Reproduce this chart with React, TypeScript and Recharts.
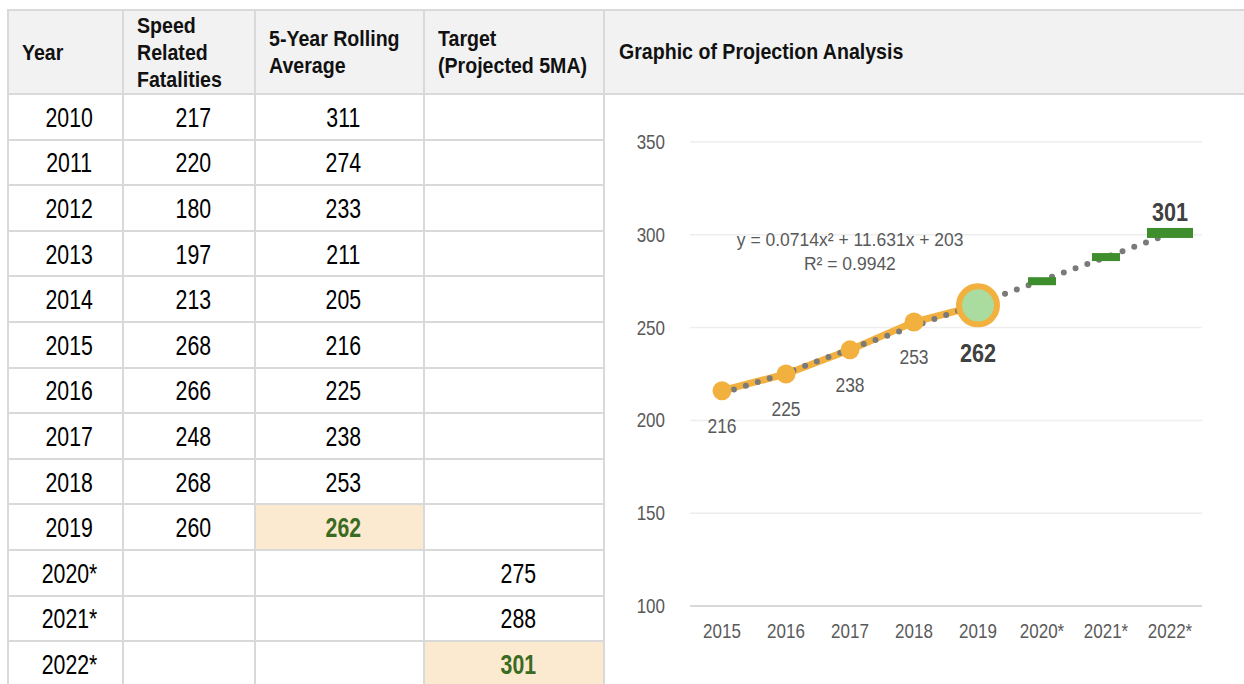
import React from 'react';
import { ComposedChart, Line, XAxis, YAxis, CartesianGrid, LabelList } from 'recharts';

// ---------- table data ----------
const tableYears = ['2010', '2011', '2012', '2013', '2014', '2015', '2016', '2017', '2018', '2019', '2020*', '2021*', '2022*'];
const speedFatalities: (number | null)[] = [217, 220, 180, 197, 213, 268, 266, 248, 268, 260, null, null, null];
const rollingAverages: (number | null)[] = [311, 274, 233, 211, 205, 216, 225, 238, 253, 262, null, null, null];
const projectedTargets: (number | null)[] = [null, null, null, null, null, null, null, null, null, null, 275, 288, 301];
const headerLabels = [['Year'], ['Speed', 'Related', 'Fatalities'], ['5-Year Rolling', 'Average'], ['Target', '(Projected 5MA)']];
const chartTitle = 'Graphic of Projection Analysis';

// ---------- chart data ----------
const chartYears = ['2015', '2016', '2017', '2018', '2019', '2020*', '2021*', '2022*'];
const chartRolling: (number | null)[] = [216, 225, 238, 253, 262, null, null, null];
const chartTargets: (number | null)[] = [null, null, null, null, null, 275, 288, 301];
const trendValues = [214.7, 225.5, 238.5, 250.7, 262.9, 275.4, 287.9, 300.6];
const yTicks = [100, 150, 200, 250, 300, 350];
const equationText = 'y = 0.0714x\u00B2 + 11.631x + 203';
const rSquaredText = 'R\u00B2 = 0.9942';

const chartData = chartYears.map((year, i) => ({
  year,
  rolling: chartRolling[i],
  target: chartTargets[i],
  trend: trendValues[i],
}));

const FONT = '"Liberation Sans", Arial, sans-serif';
const BORDER = '#D9D9D9';
const HEADER_BG = '#F2F2F2';
const HIGHLIGHT_BG = '#FCEAD0';
const HIGHLIGHT_TEXT = '#3A6B22';
const ORANGE = '#F2B13F';
const GREEN = '#3F8E2E';
const LIGHT_GREEN = '#AADC9F';
const GREY_TEXT = '#595959';

const colX = [8, 123, 255, 424, 604, 1244];
const TOP = 10;
const HEADER_BOTTOM = 94;
const ROW_H = 45.6;
const PAGE_BOTTOM = 684;

const NarrowText = (p: { x: number; y: number; children: React.ReactNode; size: number; weight?: number; fill: string; sx: number; anchor?: string }) => (
  <g transform={`translate(${p.x},${p.y}) scale(${p.sx},1)`}>
    <text x={0} y={0} textAnchor={(p.anchor as any) || 'middle'} dominantBaseline="central" fontFamily={FONT} fontSize={p.size} fontWeight={p.weight || 400} fill={p.fill}>
      {p.children}
    </text>
  </g>
);

const XTick = (props: any) => {
  const { x, y, payload } = props;
  return <NarrowText x={x} y={y + 6} size={20} fill={GREY_TEXT} sx={0.85}>{payload.value}</NarrowText>;
};

const YTick = (props: any) => {
  const { x, y, payload } = props;
  return <NarrowText x={x} y={y} size={20} fill={GREY_TEXT} sx={0.85} anchor="end">{payload.value}</NarrowText>;
};

const RollingDot = (props: any) => {
  const { cx, cy, index, value } = props;
  if (value == null || cx == null || cy == null) return <g key={`rd-${index}`} />;
  if (index === 4) {
    return <circle key={`rd-${index}`} cx={cx} cy={cy} r={19} fill={LIGHT_GREEN} stroke={ORANGE} strokeWidth={6} />;
  }
  return <circle key={`rd-${index}`} cx={cx} cy={cy} r={9.5} fill={ORANGE} />;
};

const RollingLabel = (props: any) => {
  const { x, y, value, index } = props;
  if (value == null || x == null || y == null) return null;
  const emph = index === 4;
  return (
    <NarrowText x={x} y={y + (emph ? 47 : 35)} size={emph ? 26 : 21} weight={emph ? 700 : 400} fill={emph ? '#404040' : GREY_TEXT} sx={0.83}>
      {value}
    </NarrowText>
  );
};

const TargetDot = (props: any) => {
  const { cx, cy, index, value } = props;
  if (value == null || cx == null || cy == null) return <g key={`td-${index}`} />;
  const last = index === chartTargets.length - 1;
  const w = last ? 46 : 28;
  const h = last ? 10 : 8;
  return <rect key={`td-${index}`} x={cx - w / 2} y={cy - h / 2} width={w} height={h} fill={GREEN} />;
};

const TargetLabel = (props: any) => {
  const { x, y, value, index } = props;
  if (value == null || x == null || y == null) return null;
  if (index !== chartTargets.length - 1) return null;
  return (
    <NarrowText x={x} y={y - 21} size={26} weight={700} fill="#404040" sx={0.83}>
      {value}
    </NarrowText>
  );
};

const narrowSpan = (content: React.ReactNode, sx: number, origin: string) => (
  <span style={{ display: 'inline-block', transform: `scaleX(${sx})`, transformOrigin: origin, whiteSpace: 'nowrap' }}>{content}</span>
);

function Table() {
  const els: React.ReactNode[] = [];
  const nRows = tableYears.length;
  els.push(<div key="hbg" style={{ position: 'absolute', left: colX[0], top: TOP, width: colX[5] - colX[0], height: HEADER_BOTTOM - TOP, background: HEADER_BG }} />);
  const hl = (col: number, row: number, key: string) => {
    const top = HEADER_BOTTOM + row * ROW_H;
    els.push(<div key={key} style={{ position: 'absolute', left: colX[col], top, width: colX[col + 1] - colX[col], height: ROW_H, background: HIGHLIGHT_BG }} />);
  };
  hl(2, 9, 'hl-roll');
  hl(3, nRows - 1, 'hl-target');

  headerLabels.forEach((lines, c) => {
    els.push(
      <div key={`h-${c}`} style={{ position: 'absolute', left: colX[c] + 14, top: TOP, height: HEADER_BOTTOM - TOP, display: 'flex', flexDirection: 'column', justifyContent: 'center', fontFamily: FONT, fontWeight: 700, fontSize: 22, lineHeight: '27px', color: '#111' }}>
        {lines.map((l, k) => <div key={k} style={{ whiteSpace: 'nowrap' }}>{narrowSpan(l, 0.89, 'left center')}</div>)}
      </div>
    );
  });
  els.push(
    <div key="h-chart" style={{ position: 'absolute', left: colX[4] + 15, top: TOP, height: HEADER_BOTTOM - TOP, display: 'flex', alignItems: 'center', fontFamily: FONT, fontWeight: 700, fontSize: 22, color: '#111', whiteSpace: 'nowrap' }}>
      {narrowSpan(chartTitle, 0.89, 'left center')}
    </div>
  );

  const columns: (string | number | null)[][] = [tableYears, speedFatalities, rollingAverages, projectedTargets];
  for (let r = 0; r < nRows; r++) {
    const top = HEADER_BOTTOM + r * ROW_H;
    columns.forEach((col, c) => {
      const v = col[r];
      if (v == null) return;
      const emph = (c === 2 && r === 9) || (c === 3 && r === nRows - 1);
      els.push(
        <div key={`c-${r}-${c}`} style={{ position: 'absolute', left: colX[c] + 4, top: top + 1, width: colX[c + 1] - colX[c], height: ROW_H, display: 'flex', alignItems: 'center', justifyContent: 'center', fontFamily: FONT, fontSize: 28, fontWeight: emph ? 700 : 400, color: emph ? HIGHLIGHT_TEXT : '#000' }}>
          {narrowSpan(v, 0.76, 'center center')}
        </div>
      );
    });
  }

  els.push(<div key="l-top" style={{ position: 'absolute', left: colX[0] - 1, top: TOP - 1, width: colX[5] - colX[0] + 1, height: 2, background: BORDER }} />);
  els.push(<div key="l-hb" style={{ position: 'absolute', left: colX[0] - 1, top: HEADER_BOTTOM - 1, width: colX[5] - colX[0] + 1, height: 2, background: BORDER }} />);
  for (let r = 1; r <= nRows; r++) {
    const y = HEADER_BOTTOM + r * ROW_H;
    els.push(<div key={`l-r${r}`} style={{ position: 'absolute', left: colX[0] - 1, top: Math.round(y) - 1, width: colX[4] - colX[0] + 1, height: 2, background: BORDER }} />);
  }
  for (let c = 0; c < 5; c++) {
    els.push(<div key={`l-c${c}`} style={{ position: 'absolute', left: colX[c] - 1, top: TOP - 1, width: 2, height: PAGE_BOTTOM - TOP + 10, background: BORDER }} />);
  }
  return <>{els}</>;
}

export default function App() {
  return (
    <div style={{ position: 'absolute', left: 0, top: 0, width: 1244, height: 684, overflow: 'hidden', background: '#fff' }}>
      <Table />
      <div style={{ position: 'absolute', left: 605, top: 95 }}>
        <ComposedChart
          width={639}
          height={589}
          data={chartData}
          margin={{ top: 47, right: 42, bottom: 0, left: 25 }}
        >
          <CartesianGrid vertical={false} stroke="#EEEEEE" strokeWidth={1.5} />
          <XAxis
            dataKey="year"
            interval={0}
            tickLine={false}
            axisLine={{ stroke: BORDER, strokeWidth: 2 }}
            tick={XTick}
            tickMargin={13}
            padding={{ left: 32, right: 32 }}
            height={78}
          />
          <YAxis
            domain={[100, 350]}
            ticks={yTicks}
            tickLine={false}
            axisLine={false}
            tick={YTick}
            tickMargin={19}
            width={60}
          />
          <Line
            dataKey="rolling"
            stroke={ORANGE}
            strokeWidth={7}
            dot={RollingDot}
            activeDot={false}
            isAnimationActive={false}
          >
            <LabelList dataKey="rolling" content={RollingLabel} />
          </Line>
          <Line
            dataKey="target"
            stroke="none"
            strokeWidth={0}
            dot={TargetDot}
            activeDot={false}
            isAnimationActive={false}
          >
            <LabelList dataKey="target" content={TargetLabel} />
          </Line>
          <Line
            dataKey="trend"
            stroke="#7A7A7A"
            strokeWidth={6}
            strokeDasharray="0 12.5"
            strokeLinecap="round"
            dot={false}
            activeDot={false}
            isAnimationActive={false}
          />
        </ComposedChart>
        <div style={{ position: 'absolute', left: 245 - 150, top: 133, width: 300, textAlign: 'center', fontFamily: FONT, fontSize: 19, lineHeight: '24px', color: GREY_TEXT }}>
          <div>{narrowSpan(equationText, 0.92, 'center center')}</div>
          <div>{narrowSpan(rSquaredText, 0.92, 'center center')}</div>
        </div>
      </div>
    </div>
  );
}
